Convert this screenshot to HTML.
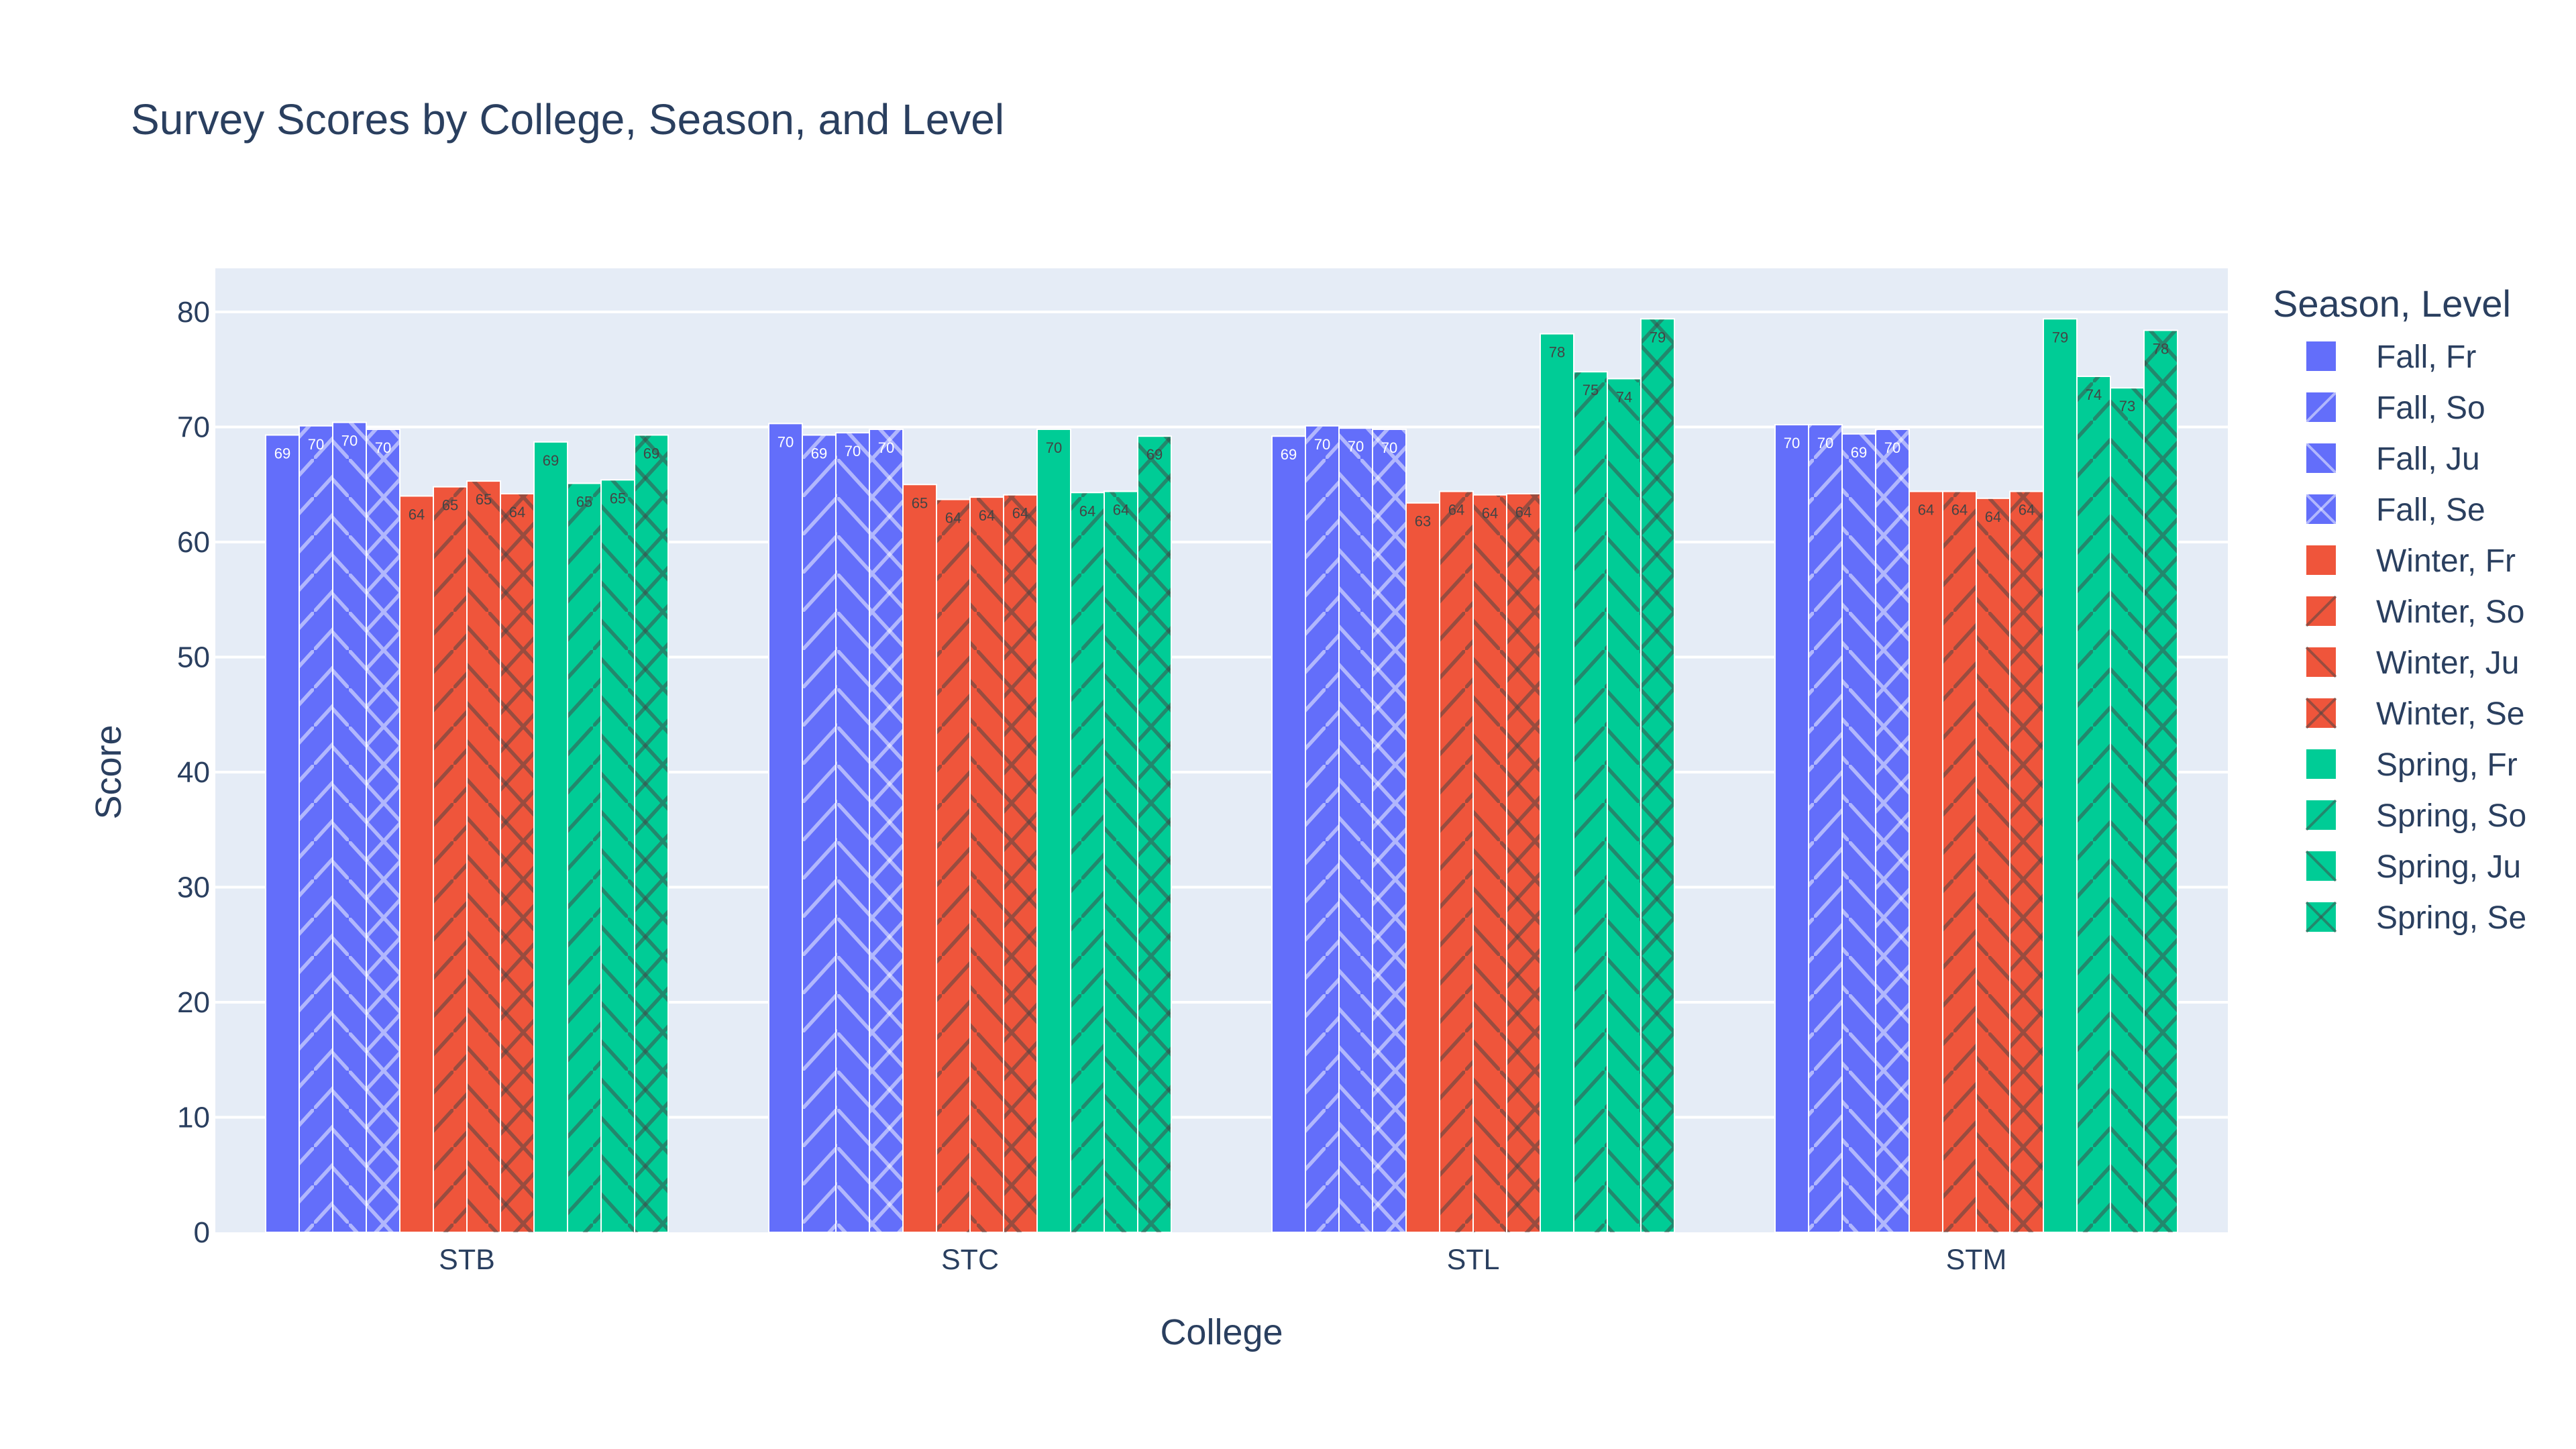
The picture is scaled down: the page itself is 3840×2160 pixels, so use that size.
<!DOCTYPE html>
<html><head><meta charset="utf-8">
<style>
html,body{margin:0;padding:0;background:#fff;}
svg{display:block;font-family:"Liberation Sans",sans-serif;}
</style></head>
<body>
<svg id="chart" width="3840" height="2160" viewBox="0 0 3840 2160" xmlns="http://www.w3.org/2000/svg">
<defs id="defs"></defs>
<rect x="0" y="0" width="3840" height="2160" fill="#fff"/>
<text x="195" y="200" font-size="64" fill="#2a3f5f">Survey Scores by College, Season, and Level</text>
<rect x="321" y="400" width="3000" height="1437" fill="#e5ecf6"/>
<g id="grid"></g>
<g id="bars"></g>
<g id="labels"></g>
<g id="yticks"></g>
<g id="xticks"></g>
<text transform="translate(180,1151) rotate(-90)" text-anchor="middle" font-size="54" fill="#2a3f5f">Score</text>
<text x="1821" y="2004" text-anchor="middle" font-size="54" fill="#2a3f5f">College</text>
<text x="3388" y="472" font-size="56" fill="#2a3f5f">Season, Level</text>
<g id="legend"></g>
</svg>
<script>
const colleges = ["STB", "STC", "STL", "STM"];
const seriesNames = ["Fall, Fr","Fall, So","Fall, Ju","Fall, Se","Winter, Fr","Winter, So","Winter, Ju","Winter, Se","Spring, Fr","Spring, So","Spring, Ju","Spring, Se"];
const fallFr = [69.3, 70.3, 69.2, 70.2];
const fallSo = [70.1, 69.3, 70.1, 70.2];
const fallJu = [70.4, 69.5, 69.9, 69.4];
const fallSe = [69.8, 69.8, 69.8, 69.8];
const winterFr = [64.0, 65.0, 63.4, 64.4];
const winterSo = [64.8, 63.7, 64.4, 64.4];
const winterJu = [65.3, 63.9, 64.1, 63.8];
const winterSe = [64.2, 64.1, 64.2, 64.4];
const springFr = [68.7, 69.8, 78.1, 79.4];
const springSo = [65.1, 64.3, 74.8, 74.4];
const springJu = [65.4, 64.4, 74.2, 73.4];
const springSe = [69.3, 69.2, 79.4, 78.4];
const yTicks = [0, 10, 20, 30, 40, 50, 60, 70, 80];

const seriesValues = [fallFr, fallSo, fallJu, fallSe, winterFr, winterSo, winterJu, winterSe, springFr, springSo, springJu, springSe];
const NS = "http://www.w3.org/2000/svg";
const PL = 321, PW = 3000, PB = 1837, PT = 400, YMAX = (1837 - 400) / 17.15;
function yScale(v) { return PB - (v / YMAX) * (PB - PT); }
function xBand(i) { return PL + PW / colleges.length * (i + 0.5); }
const groupW = PW / colleges.length * 0.8;
const barW = groupW / seriesNames.length;
const seasonColors = ["#636efa", "#EF553B", "#00cc96"];
const patColors = ["rgba(255,255,255,0.5)", "rgba(68,68,68,0.5)", "rgba(68,68,68,0.5)"];
const labelColors = ["#ffffff", "#444444", "#444444"];

function mk(tag, attrs, parent) {
  const e = document.createElementNS(NS, tag);
  for (const k in attrs) e.setAttribute(k, attrs[k]);
  if (parent) parent.appendChild(e);
  return e;
}
const defs = document.getElementById("defs");
for (let s = 0; s < 3; s++) {
  for (let p = 1; p < 4; p++) {
    const pat = mk("pattern", {id: "pat" + s + p, patternUnits: "userSpaceOnUse", width: 52, height: 57}, defs);
    const st = {stroke: patColors[s], "stroke-width": 5.5, fill: "none"};
    if (p === 1 || p === 3) {
      mk("line", Object.assign({x1: -5, y1: 62.5, x2: 57, y2: -5.5}, st), pat);
    }
    if (p === 2 || p === 3) {
      mk("line", Object.assign({x1: -5, y1: -5.5, x2: 57, y2: 62.5}, st), pat);
    }
  }
}
const grid = document.getElementById("grid");
const yt = document.getElementById("yticks");
yTicks.forEach(t => {
  const y = yScale(t);
  if (t > 0) {
    const l = mk("line", {x1: PL, x2: PL + PW, y1: y, y2: y, stroke: "#fff", "stroke-width": 4}, grid);
    
    
  }
  const tx = mk("text", {x: 313, y: y + 15, "text-anchor": "end", "font-size": 44, fill: "#2a3f5f"}, yt);
  tx.textContent = t;
  
  
});
const xt = document.getElementById("xticks");
colleges.forEach((c, i) => {
  const tx = mk("text", {x: xBand(i), y: 1892, "text-anchor": "middle", "font-size": 43, fill: "#2a3f5f"}, xt);
  tx.textContent = c;
  
  
});
const bars = document.getElementById("bars");
const labels = document.getElementById("labels");
seriesValues.forEach((vals, j) => {
  const s = Math.floor(j / 4), p = j % 4;
  vals.forEach((v, i) => {
    const x = xBand(i) - groupW / 2 + barW * j;
    const y = yScale(v);
    const h = PB - y;
    const r = mk("rect", {x: x, y: y, width: barW, height: h, fill: seasonColors[s], stroke: "#fff", "stroke-width": 2}, bars);
    
    
    if (p > 0) {
      const pr = mk("rect", {x: x + 1, y: y + 1, width: barW - 2, height: h - 1, fill: "url(#pat" + s + p + ")"}, bars);
      
      
    }
    const lt = mk("text", {x: x + barW / 2, y: y + 35, "text-anchor": "middle", "font-size": 22, fill: labelColors[s]}, labels);
    lt.textContent = Math.round(v);
    
    
  });
});
const lg = document.getElementById("legend");
seriesNames.forEach((n, j) => {
  const s = Math.floor(j / 4), p = j % 4;
  const cy = 531 + 76 * j;
  const g = mk("g", {}, lg);
  
  
  mk("rect", {x: 3437, y: cy - 23, width: 46, height: 46, fill: seasonColors[s], stroke: "#fff", "stroke-width": 2}, g);
  const st = {stroke: patColors[s], "stroke-width": 4};
  if (p === 1 || p === 3) mk("line", Object.assign({x1: 3438, y1: cy + 22, x2: 3482, y2: cy - 22}, st), g);
  if (p === 2 || p === 3) mk("line", Object.assign({x1: 3438, y1: cy - 22, x2: 3482, y2: cy + 22}, st), g);
  const t = mk("text", {x: 3542, y: cy + 17, "font-size": 48, fill: "#2a3f5f"}, g);
  t.textContent = n;
});
</script>
</body></html>
